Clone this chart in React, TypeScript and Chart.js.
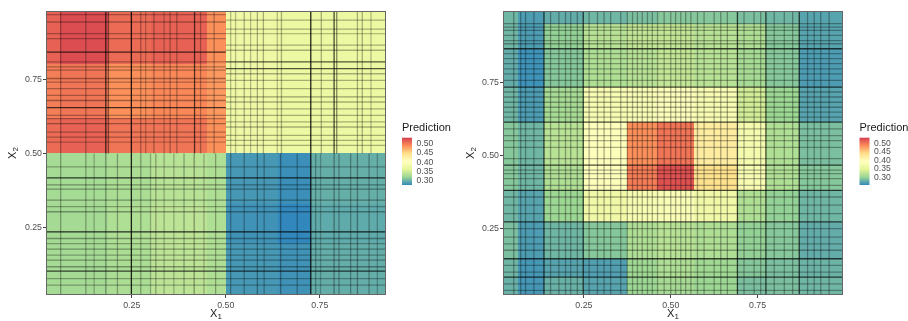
import React, { useEffect, useRef } from "react";
import { Chart, registerables } from "chart.js";

Chart.register(...registerables);

// ---- shared axis / legend values ----
const AXIS_TICKS = [0.25, 0.5, 0.75];
const LEGEND_TICKS = [0.5, 0.45, 0.4, 0.35, 0.3];
const SPECTRAL = ["#3288BD", "#99D594", "#E6F598", "#FFFFBF", "#FEE08B", "#FC8D59", "#D53E4F"];

// ---- left panel: step-shaped prediction surface ----
const leftX1Breaks = [0.022, 0.06, 0.188, 0.3, 0.45, 0.5, 0.64, 0.726, 0.926];
const leftX2Breaks = [0.024, 0.2, 0.33, 0.5, 0.62, 0.8, 0.979];
// rows from bottom (low X2) to top, columns along X1
const leftPred = [
  [0.325, 0.324, 0.328, 0.337, 0.33, 0.283, 0.28, 0.295],
  [0.324, 0.324, 0.33, 0.338, 0.33, 0.28, 0.274, 0.293],
  [0.325, 0.325, 0.328, 0.335, 0.33, 0.283, 0.278, 0.296],
  [0.51, 0.515, 0.505, 0.505, 0.49, 0.375, 0.372, 0.372],
  [0.5, 0.505, 0.49, 0.495, 0.485, 0.375, 0.373, 0.372],
  [0.515, 0.527, 0.51, 0.515, 0.49, 0.376, 0.372, 0.372],
];
// vertical split lines: [x1, x2 from, x2 to, opacity]
const leftSplitsX1 = [
  [0.249, 0.024, 0.979, 0.85], [0.726, 0.024, 0.979, 0.85],
  [0.061, 0.5, 0.979, 0.3], [0.128, 0.5, 0.979, 0.3], [0.181, 0.5, 0.979, 0.7], [0.188, 0.5, 0.979, 0.45],
  [0.274, 0.5, 0.979, 0.3], [0.287, 0.5, 0.979, 0.25], [0.309, 0.5, 0.979, 0.3], [0.336, 0.5, 0.979, 0.25],
  [0.352, 0.5, 0.979, 0.3], [0.37, 0.5, 0.979, 0.3], [0.417, 0.5, 0.979, 0.65], [0.433, 0.5, 0.979, 0.3],
  [0.469, 0.5, 0.979, 0.3], [0.513, 0.5, 0.979, 0.25], [0.526, 0.5, 0.979, 0.25], [0.549, 0.5, 0.979, 0.3],
  [0.566, 0.5, 0.979, 0.25], [0.584, 0.5, 0.979, 0.3], [0.6, 0.5, 0.979, 0.3], [0.637, 0.5, 0.979, 0.25],
  [0.648, 0.5, 0.979, 0.3], [0.754, 0.5, 0.979, 0.3], [0.788, 0.5, 0.979, 0.7], [0.795, 0.5, 0.979, 0.45],
  [0.85, 0.5, 0.979, 0.3], [0.863, 0.5, 0.979, 0.3], [0.886, 0.5, 0.979, 0.25],
  [0.061, 0.024, 0.5, 0.3], [0.128, 0.024, 0.5, 0.3], [0.15, 0.024, 0.5, 0.25], [0.181, 0.024, 0.5, 0.35],
  [0.212, 0.024, 0.5, 0.3], [0.274, 0.024, 0.5, 0.3], [0.3, 0.024, 0.5, 0.25], [0.314, 0.024, 0.5, 0.3],
  [0.336, 0.024, 0.5, 0.25], [0.362, 0.024, 0.5, 0.25], [0.389, 0.024, 0.5, 0.3], [0.416, 0.024, 0.5, 0.35],
  [0.442, 0.024, 0.5, 0.25], [0.473, 0.024, 0.5, 0.3], [0.513, 0.024, 0.5, 0.3], [0.549, 0.024, 0.5, 0.3],
  [0.584, 0.024, 0.5, 0.35], [0.602, 0.024, 0.5, 0.3], [0.646, 0.024, 0.5, 0.35], [0.69, 0.024, 0.5, 0.3],
  [0.739, 0.024, 0.5, 0.3], [0.752, 0.024, 0.5, 0.25], [0.788, 0.024, 0.5, 0.35], [0.801, 0.024, 0.5, 0.3],
  [0.832, 0.024, 0.5, 0.3], [0.85, 0.024, 0.5, 0.35], [0.881, 0.024, 0.5, 0.3], [0.903, 0.024, 0.5, 0.25],
];
// horizontal split lines: [x2, x1 from, x1 to, opacity]
const leftSplitsX2 = [
  [0.967, 0.022, 0.5, 0.3], [0.942, 0.022, 0.5, 0.3], [0.903, 0.022, 0.5, 0.3], [0.886, 0.022, 0.5, 0.3],
  [0.841, 0.022, 0.5, 0.7], [0.808, 0.022, 0.5, 0.3], [0.791, 0.022, 0.5, 0.3], [0.78, 0.022, 0.5, 0.3],
  [0.752, 0.022, 0.5, 0.35], [0.74, 0.022, 0.5, 0.3], [0.718, 0.022, 0.5, 0.3], [0.695, 0.022, 0.5, 0.3],
  [0.678, 0.022, 0.5, 0.35], [0.654, 0.022, 0.5, 0.7], [0.628, 0.022, 0.5, 0.3], [0.617, 0.022, 0.5, 0.3],
  [0.6, 0.022, 0.5, 0.35], [0.572, 0.022, 0.5, 0.3], [0.555, 0.022, 0.5, 0.3], [0.538, 0.022, 0.5, 0.25],
  [0.948, 0.5, 0.926, 0.3], [0.918, 0.5, 0.926, 0.3], [0.903, 0.5, 0.926, 0.25], [0.864, 0.5, 0.926, 0.3],
  [0.847, 0.5, 0.926, 0.3], [0.808, 0.5, 0.926, 0.65], [0.785, 0.5, 0.926, 0.65], [0.768, 0.5, 0.926, 0.3],
  [0.746, 0.5, 0.926, 0.3], [0.718, 0.5, 0.926, 0.3], [0.69, 0.5, 0.926, 0.35], [0.673, 0.5, 0.926, 0.3],
  [0.65, 0.5, 0.926, 0.3], [0.628, 0.5, 0.926, 0.3], [0.606, 0.5, 0.926, 0.3], [0.589, 0.5, 0.926, 0.3],
  [0.561, 0.5, 0.926, 0.3], [0.544, 0.5, 0.926, 0.3], [0.527, 0.5, 0.926, 0.3],
  [0.455, 0.022, 0.926, 0.3], [0.418, 0.022, 0.926, 0.75], [0.394, 0.022, 0.926, 0.35], [0.38, 0.022, 0.926, 0.35],
  [0.343, 0.022, 0.926, 0.35], [0.321, 0.022, 0.926, 0.3], [0.304, 0.022, 0.926, 0.35], [0.236, 0.022, 0.926, 0.8],
  [0.214, 0.022, 0.926, 0.35], [0.197, 0.022, 0.926, 0.3], [0.178, 0.022, 0.926, 0.35], [0.158, 0.022, 0.926, 0.3],
  [0.141, 0.022, 0.926, 0.35], [0.119, 0.022, 0.926, 0.35], [0.104, 0.022, 0.926, 0.7], [0.079, 0.022, 0.926, 0.3],
  [0.057, 0.022, 0.926, 0.3],
];

// ---- right panel: bump-shaped prediction surface ----
const rightX1Breaks = [0.017, 0.06, 0.135, 0.25, 0.375, 0.46, 0.567, 0.692, 0.774, 0.87, 0.996];
const rightX2Breaks = [0.022, 0.083, 0.146, 0.272, 0.38, 0.466, 0.613, 0.733, 0.864, 0.95, 0.993];
const rightPred = [
  [0.28, 0.264, 0.28, 0.272, 0.304, 0.31, 0.304, 0.288, 0.288, 0.283],
  [0.283, 0.264, 0.272, 0.269, 0.306, 0.315, 0.306, 0.293, 0.288, 0.281],
  [0.288, 0.267, 0.283, 0.293, 0.315, 0.32, 0.315, 0.299, 0.293, 0.277],
  [0.283, 0.272, 0.304, 0.368, 0.379, 0.384, 0.368, 0.315, 0.299, 0.283],
  [0.293, 0.283, 0.315, 0.39, 0.497, 0.523, 0.438, 0.379, 0.315, 0.293],
  [0.293, 0.283, 0.32, 0.39, 0.486, 0.502, 0.422, 0.374, 0.315, 0.288],
  [0.283, 0.267, 0.31, 0.379, 0.384, 0.39, 0.379, 0.336, 0.304, 0.272],
  [0.277, 0.261, 0.293, 0.315, 0.32, 0.326, 0.32, 0.31, 0.293, 0.267],
  [0.283, 0.267, 0.299, 0.32, 0.326, 0.326, 0.32, 0.315, 0.293, 0.272],
  [0.283, 0.267, 0.277, 0.283, 0.288, 0.293, 0.293, 0.288, 0.283, 0.272],
];
// split positions; the heavier ones are listed separately
const rightSplitsX1 = [
  0.048, 0.068, 0.082, 0.106, 0.135, 0.154, 0.178, 0.197, 0.212, 0.231, 0.248, 0.265, 0.289, 0.308, 0.327,
  0.356, 0.375, 0.39, 0.404, 0.418, 0.433, 0.447, 0.462, 0.481, 0.5, 0.514, 0.529, 0.543, 0.558, 0.577,
  0.596, 0.625, 0.644, 0.663, 0.692, 0.711, 0.74, 0.759, 0.774, 0.798, 0.827, 0.851, 0.87, 0.894, 0.913,
  0.932, 0.956,
];
const rightHeavyX1 = [0.135, 0.248, 0.692, 0.774, 0.87];
const rightSplitsX2 = [
  0.95, 0.938, 0.927, 0.91, 0.892, 0.881, 0.864, 0.847, 0.83, 0.813, 0.795, 0.778, 0.756, 0.733, 0.716,
  0.699, 0.681, 0.664, 0.647, 0.63, 0.613, 0.59, 0.567, 0.55, 0.527, 0.488, 0.466, 0.449, 0.437, 0.42,
  0.397, 0.38, 0.357, 0.329, 0.3, 0.272, 0.249, 0.22, 0.197, 0.175, 0.146, 0.123, 0.1, 0.083, 0.06, 0.038,
];
const rightHeavyX2 = [0.864, 0.733, 0.613, 0.466, 0.38, 0.272, 0.146, 0.083];

const FONT = "'Liberation Sans', Arial, Helvetica, sans-serif";

type Panel = {
  xMin: number; xMax: number; yMin: number; yMax: number;
  xBreaks: number[]; yBreaks: number[]; pred: number[][];
  vLines: number[][]; hLines: number[][];
  limits: [number, number];
  yAxisWidth: number; padRight: number; legendX: number; yTitleX: number;
};

const LEFT_PANEL: Panel = {
  xMin: 0.022, xMax: 0.926, yMin: 0.024, yMax: 0.979,
  xBreaks: leftX1Breaks, yBreaks: leftX2Breaks, pred: leftPred,
  vLines: leftSplitsX1, hLines: leftSplitsX2,
  limits: [0.274, 0.535],
  yAxisWidth: 46, padRight: 68, legendX: 402, yTitleX: 13,
};

const RIGHT_PANEL: Panel = {
  xMin: 0.017, xMax: 0.996, yMin: 0.022, yMax: 0.993,
  xBreaks: rightX1Breaks, yBreaks: rightX2Breaks, pred: rightPred,
  vLines: rightSplitsX1.map((v) => [v, 0.022, 0.993, rightHeavyX1.includes(v) ? 0.7 : 0.32]),
  hLines: rightSplitsX2.map((v) => [v, 0.017, 0.996, rightHeavyX2.includes(v) ? 0.7 : 0.32]),
  limits: [0.255, 0.534],
  yAxisWidth: 49, padRight: 65, legendX: 405.5, yTitleX: 16.5,
};

function hexToRgb(h: string) {
  const n = parseInt(h.slice(1), 16);
  return [(n >> 16) & 255, (n >> 8) & 255, n & 255];
}
const SPECTRAL_RGB = SPECTRAL.map(hexToRgb);

function spectral(t: number) {
  const c = Math.max(0, Math.min(1, t));
  const n = SPECTRAL_RGB.length - 1;
  const p = c * n;
  const i = Math.min(n - 1, Math.floor(p));
  const f = p - i;
  const a = SPECTRAL_RGB[i];
  const b = SPECTRAL_RGB[i + 1];
  const m = a.map((v, k) => Math.round(v + (b[k] - v) * f));
  return `rgb(${m[0]},${m[1]},${m[2]})`;
}

function drawSubscripted(ctx: CanvasRenderingContext2D, base: string, sub: string, cx: number, cy: number) {
  ctx.font = `11px ${FONT}`;
  const wb = ctx.measureText(base).width;
  ctx.font = `8px ${FONT}`;
  const ws = ctx.measureText(sub).width;
  const x0 = cx - (wb + ws) / 2;
  ctx.textAlign = "left";
  ctx.textBaseline = "middle";
  ctx.font = `11px ${FONT}`;
  ctx.fillText(base, x0, cy);
  ctx.font = `8px ${FONT}`;
  ctx.fillText(sub, x0 + wb, cy + 3);
}

function makeSurfacePlugin(panel: Panel) {
  return {
    id: "predictionSurface",
    beforeDatasetsDraw(chart: any) {
      const { ctx, chartArea: a } = chart;
      const xs = chart.scales.x;
      const ys = chart.scales.y;
      const [lo, hi] = panel.limits;
      ctx.save();
      ctx.beginPath();
      ctx.rect(a.left, a.top, a.right - a.left, a.bottom - a.top);
      ctx.clip();
      // tiles
      panel.pred.forEach((row, j) => {
        row.forEach((v, i) => {
          const x0 = Math.round(xs.getPixelForValue(panel.xBreaks[i]));
          const x1 = Math.round(xs.getPixelForValue(panel.xBreaks[i + 1]));
          const yTop = Math.round(ys.getPixelForValue(panel.yBreaks[j + 1]));
          const yBot = Math.round(ys.getPixelForValue(panel.yBreaks[j]));
          ctx.fillStyle = spectral((v - lo) / (hi - lo));
          ctx.fillRect(x0, yTop, x1 - x0, yBot - yTop);
        });
      });
      // split lines (soft, unsnapped strokes)
      ctx.lineWidth = 1.3;
      panel.vLines.forEach(([x, y0, y1, op]) => {
        const px = xs.getPixelForValue(x);
        ctx.strokeStyle = `rgba(0,0,0,${op})`;
        ctx.beginPath();
        ctx.moveTo(px, ys.getPixelForValue(y0));
        ctx.lineTo(px, ys.getPixelForValue(y1));
        ctx.stroke();
      });
      panel.hLines.forEach(([y, x0, x1, op]) => {
        const py = ys.getPixelForValue(y);
        ctx.strokeStyle = `rgba(0,0,0,${op})`;
        ctx.beginPath();
        ctx.moveTo(xs.getPixelForValue(x0), py);
        ctx.lineTo(xs.getPixelForValue(x1), py);
        ctx.stroke();
      });
      ctx.restore();
      // panel border
      ctx.save();
      ctx.strokeStyle = "#666666";
      ctx.lineWidth = 1;
      ctx.strokeRect(a.left + 0.5, a.top + 0.5, a.right - a.left - 1, a.bottom - a.top - 1);
      ctx.restore();
    },
    afterDraw(chart: any) {
      const { ctx, chartArea: a } = chart;
      const [lo, hi] = panel.limits;
      ctx.save();
      ctx.fillStyle = "#1a1a1a";
      // axis titles
      drawSubscripted(ctx, "X", "1", (a.left + a.right) / 2, 314);
      ctx.save();
      ctx.translate(panel.yTitleX, (a.top + a.bottom) / 2);
      ctx.rotate(-Math.PI / 2);
      drawSubscripted(ctx, "X", "2", 0, 0);
      ctx.restore();
      // colour bar legend
      const lx = panel.legendX;
      const barTop = 137.7;
      const barBot = 185;
      const barW = 10;
      ctx.font = `11px ${FONT}`;
      ctx.textAlign = "left";
      ctx.textBaseline = "middle";
      ctx.fillStyle = "#1a1a1a";
      ctx.fillText("Prediction", lx, 127.5);
      const g = ctx.createLinearGradient(0, barBot, 0, barTop);
      SPECTRAL.forEach((c, k) => g.addColorStop(k / (SPECTRAL.length - 1), c));
      ctx.fillStyle = g;
      ctx.fillRect(lx, barTop, barW, barBot - barTop);
      ctx.font = `8.6px ${FONT}`;
      ctx.fillStyle = "#4d4d4d";
      LEGEND_TICKS.forEach((v) => {
        const yy = barBot - ((v - lo) / (hi - lo)) * (barBot - barTop);
        ctx.fillText(v.toFixed(2), lx + 14.5, yy);
      });
      ctx.restore();
    },
  };
}

function SurfacePanel({ panel, left }: { panel: Panel; left: number }) {
  const ref = useRef<HTMLCanvasElement | null>(null);
  useEffect(() => {
    if (!ref.current) return;
    const tickFont = { family: FONT, size: 8.8 };
    const chart = new Chart(ref.current, {
      type: "scatter",
      data: { datasets: [] },
      options: {
        animation: false,
        responsive: false,
        devicePixelRatio: 1,
        events: [],
        layout: { padding: { top: 11, right: panel.padRight, left: 0, bottom: 0 } },
        plugins: { legend: { display: false }, tooltip: { enabled: false } },
        scales: {
          x: {
            type: "linear",
            min: panel.xMin,
            max: panel.xMax,
            afterBuildTicks: (s: any) => { s.ticks = AXIS_TICKS.map((v) => ({ value: v })); },
            afterFit: (s: any) => { s.height = 26; },
            ticks: { callback: (v: any) => Number(v).toFixed(2), color: "#4d4d4d", font: tickFont, padding: 2, maxRotation: 0 },
            grid: { display: true, drawOnChartArea: false, drawTicks: true, tickLength: 3, color: "#444444" },
            border: { display: false },
          },
          y: {
            type: "linear",
            min: panel.yMin,
            max: panel.yMax,
            afterBuildTicks: (s: any) => { s.ticks = AXIS_TICKS.map((v) => ({ value: v })); },
            afterFit: (s: any) => { s.width = panel.yAxisWidth; },
            ticks: { callback: (v: any) => Number(v).toFixed(2), color: "#4d4d4d", font: tickFont, padding: 1 },
            grid: { display: true, drawOnChartArea: false, drawTicks: true, tickLength: 3, color: "#444444" },
            border: { display: false },
          },
        },
      },
      plugins: [makeSurfacePlugin(panel)],
    } as any);
    return () => chart.destroy();
  }, [panel]);
  return (
    <canvas
      ref={ref}
      width={454}
      height={321}
      style={{ position: "absolute", left, top: 0, width: 454, height: 321 }}
    />
  );
}

export default function App() {
  return (
    <div style={{ position: "fixed", left: 0, top: 0, width: 908, height: 321, background: "#ffffff" }}>
      <SurfacePanel panel={LEFT_PANEL} left={0} />
      <SurfacePanel panel={RIGHT_PANEL} left={454} />
    </div>
  );
}
